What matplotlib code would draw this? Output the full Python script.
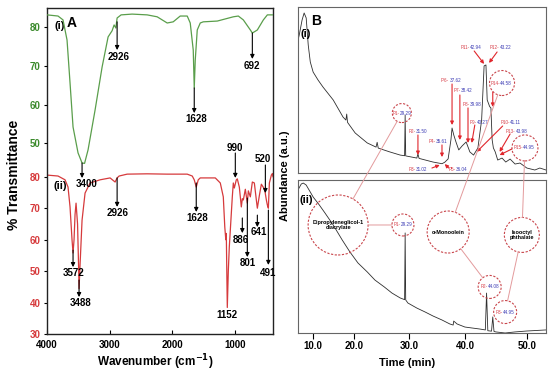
import numpy as np
import matplotlib
matplotlib.use('Agg')
import matplotlib.pyplot as plt
from matplotlib.patches import Circle, ConnectionPatch
from matplotlib.transforms import ScaledTranslation

plt.rcParams['font.family'] = ['Liberation Sans', 'DejaVu Sans']

# ---------------- Panel A : FTIR spectra ----------------
wn_i = [4000, 3824, 3744, 3680, 3632, 3584, 3504, 3440, 3400, 3344, 3232, 3120, 3024,
        2960, 2928, 2900, 2880, 2816, 2640, 2400, 2240, 2080, 1984, 1872, 1760, 1712,
        1664, 1648, 1632, 1600, 1552, 1504, 1280, 1024, 944, 864, 752, 720, 640, 544,
        480, 390]
tr_i = [83.2, 82.9, 81.9, 76.7, 65.6, 54.2, 47.5, 44.9, 44.8, 48.3, 58.6, 69.7, 77.5,
        79.1, 80.6, 79.8, 82.4, 83.2, 83.4, 83.2, 82.7, 81.1, 81.4, 82.9, 82.9, 81.1,
        74.1, 64.3, 71.5, 79.3, 81.1, 81.4, 81.6, 82.7, 82.9, 81.9, 79.3, 78.5, 79.3, 81.9,
        83.2, 83.2]

wn_ii = [4000, 3824, 3712, 3664, 3632, 3600, 3584, 3568, 3552, 3536, 3512, 3496, 3488,
         3472, 3440, 3392, 3312, 3152, 2992, 2912, 2880, 2848, 2720, 2400, 2080, 1760,
         1680, 1648, 1616, 1584, 1552, 1312, 1232, 1184, 1160, 1144, 1136, 1128, 1120,
         1104, 1088, 1072, 1040, 1024, 1008, 976, 960, 928, 896, 880, 864, 832, 800, 784,
         752, 720, 688, 656, 640, 608, 576, 544, 520, 496, 480, 464, 448, 416, 400, 390]
tr_ii = [80.5, 80.2, 79.0, 76.7, 70.4, 59.9, 55.8, 60.0, 68.0, 71.6, 65.0, 52.0, 44.5,
         52.0, 66.2, 74.8, 78.0, 79.0, 79.6, 78.3, 79.6, 80.2, 80.8, 80.9, 80.8, 80.8,
         80.2, 79.0, 76.7, 79.0, 79.6, 79.6, 78.0, 73.6, 64.0, 60.0, 62.0, 50.0, 38.5,
         50.0, 57.7, 63.0, 73.6, 78.0, 76.4, 79.0, 79.3, 76.7, 70.4, 73.0, 72.6, 76.0, 71.6, 75.5,
         73.6, 78.3, 78.0, 72.6, 70.0, 74.0, 77.6, 76.6, 75.5, 72.6, 71.0, 70.0, 78.0, 80.5, 81.0, 80.0]

# arrow annotations: label, tail (wn, %T), tip (wn, %T), text centre (wn, %T)
lab_i = ['2926', '3400', '1628', '692']
tail_i = [(2880, 81.4), (3440, 44.9), (1648, 64.3), (720, 78.5)]
tip_i = [(2880, 74.1), (3440, 41.0), (1648, 57.8), (720, 71.8)]
txt_i = [(2848, 72.3), (3360, 39.5), (1616, 56.3), (720, 70.0)]

lab_ii = ['2926', '1628', '3572', '3488', '990', '886', '801', '641', '520', '491']
tail_ii = [(2880, 79.6), (1616, 78.0), (3584, 56.7), (3488, 47.2), (992, 87.5),
           (880, 66.9), (800, 73.2), (640, 67.8), (512, 83.7), (464, 69.4)]
tip_ii = [(2880, 70.4), (1616, 68.8), (3584, 51.3), (3488, 41.8), (992, 79.6),
          (880, 62.1), (800, 54.5), (640, 64.0), (512, 74.8), (464, 52.0)]
txt_ii = [(2864, 68.5), (1600, 66.9), (3568, 49.4), (3456, 39.9), (992, 89.1),
          (896, 59.9), (800, 52.6), (624, 62.5), (560, 85.6), (464, 49.4)]
txt_1152 = (1120, 36.1)

# ---------------- Panel B : chromatograms ----------------
t_i = [6.3, 6.6, 7.3, 7.8, 8.3, 8.8, 9.3, 10.0, 11.2, 12.4, 14.9, 17.3, 18.0, 18.2, 18.4,
       20.2, 22.4, 24.0, 24.2, 24.4, 26.5, 28.4, 29.2, 29.3, 29.4, 31.4, 31.6, 31.8, 34.3,
       35.9, 36.4, 37.0, 37.5, 37.7, 38.0, 38.4, 38.9, 39.5, 40.2, 40.8, 41.4, 42.1, 42.7,
       43.1, 43.4, 43.6, 44.0, 44.2, 44.4, 44.6, 44.9, 45.3, 46.0, 46.6, 47.3, 48.1, 48.9,
       50.0, 51.3, 52.1, 53.1]
ab_i = [80.0, 83.1, 92.2, 96.4, 93.4, 77.1, 66.9, 60.8, 56.0, 51.8, 44.0, 33.7, 31.9, 35.5, 30.5,
        24.1, 18.1, 15.6, 18.5, 15.0, 12.7, 10.8, 10.4, 34.9, 10.3, 9.0, 11.5, 8.8, 6.6,
        5.6, 6.5, 8.5, 20.0, 27.1, 23.0, 18.7, 13.9, 16.3, 18.7, 12.7, 10.8, 15.1, 31.9,
        64.5, 65.1, 44.0, 40.0, 39.2, 20.0, 15.1, 12.7, 7.8, 9.0, 6.6, 8.4, 5.4, 6.0,
        3.0, 1.8, 3.0, 1.8]

t_ii = [6.3, 7.1, 7.6, 8.3, 9.0, 10.0, 11.5, 12.9, 14.9, 17.1, 19.0, 20.7, 22.4, 23.8,
        25.5, 26.9, 28.4, 29.2, 29.3, 29.4, 29.8, 31.4, 32.9, 34.3, 35.9, 37.3, 37.9, 38.0,
        38.6, 40.0, 41.1, 42.4, 43.3, 43.5, 43.7, 44.3, 44.5, 44.7, 45.0, 46.5, 48.1, 50.0, 53.1]
ab_ii = [93.5, 97.4, 98.0, 96.7, 93.5, 88.9, 83.7, 78.4, 70.6, 60.8, 52.9, 45.8, 39.9, 34.6,
         30.1, 26.1, 22.9, 21.8, 65.4, 21.6, 19.6, 16.3, 13.7, 11.1, 8.5, 5.9, 5.2, 7.8,
         5.9, 3.9, 3.3, 2.6, 2.0, 26.1, 1.5, 1.2, 10.5, 1.0, 0.7, 0.0, 0.7, 1.3, 2.0]

# peak labels with arrows in (i): prefix, retention time, text anchor, arrow tail, arrow tip
pk_pre = ['P2-', 'P3-', 'P4-', 'P5-', 'P6- ', 'P7-', 'P8-', 'P9-', 'P10-', 'P11-', 'P12-', 'P13-']
pk_num = ['31.50', '31.02', '35.61', '36.04', '37.62', '38.42', '39.98', '40.27', '41.11',
          '42.94', '43.22', '43.98']
pk_txt = [(31.25, 25.3), (31.25, 2.4), (34.8, 18.7), (38.4, 2.4), (37.3, 56.0), (39.3, 49.4),
          (40.8, 41.0), (41.9, 30.7), (47.3, 30.7), (40.8, 75.9), (45.6, 75.9), (48.2, 25.3)]
pk_tail = [(31.6, 22.9), (34.1, 3.0), (35.9, 16.9), (37.1, 3.0), (37.7, 53.6), (39.1, 47.0),
           (40.5, 39.2), (41.6, 28.9), (46.1, 28.3), (41.5, 73.5), (45.2, 72.9), (47.3, 23.5)]
pk_tip = [(31.6, 10.8), (35.5, 4.8), (35.9, 9.6), (36.4, 5.4), (37.7, 28.9), (39.1, 19.9),
          (40.5, 18.1), (41.1, 18.1), (41.9, 12.7), (43.1, 65.7), (43.9, 66.3), (45.6, 12.7)]

# circled peaks: prefix, time, centre, radius (px)
circ_i = [('P1-', '29.29', (28.7, 36.1), 9.5), ('P14-', '44.58', (46.0, 54.2), 12.5),
          ('P15-', '44.95', (49.7, 15.1), 13)]
circ_ii = [('P1-', '29.29', (28.9, 70.6), 11), ('P2-', '44.08', (44.0, 30.1), 11.5),
           ('P3-', '44.95', (46.5, 13.7), 11.5)]
compounds = ['Dipropyleneglicol-1\ndiacrylate', 'α-Monoolein', 'Isooctyl\nphthalate']
comp_xy = [(16.1, 70.6), (37.0, 66.0), (49.2, 64.1)]
comp_r = [30, 21, 17.5]

# uneven time axis of the original figure
T_KNOTS = [0, 10, 20, 30, 40, 50, 60]
P_KNOTS = [272, 313, 354, 409, 465, 527, 589]


def t_fwd(t):
    return np.interp(t, T_KNOTS, P_KNOTS)


def t_inv(p):
    return np.interp(p, P_KNOTS, T_KNOTS)


GREEN = '#5a9e4b'
RED = '#d63a3c'
PRED = '#d8404a'
PBLUE = '#3c3cb4'

fig = plt.figure(figsize=(5.5, 3.72), dpi=100)

# ---- panel A ----
axA = fig.add_axes([47 / 550, 1 - 334.3 / 372, 226 / 550, 326 / 372])
axG = axA.twinx()
axG.yaxis.tick_left()

axA.plot(wn_ii, tr_ii, color=RED, lw=0.9)
axG.plot(wn_i, tr_i, color=GREEN, lw=0.9)

axA.set_xlim(4000, 390)
axA.set_ylim(30, 133.4)
axG.set_ylim(0.6, 84.9)
axA.set_xticks([4000, 3000, 2000, 1000])
axA.set_yticks([30, 40, 50, 60, 70, 80])
axG.set_yticks([50, 60, 70, 80])
for lab in axA.get_xticklabels():
    lab.set_fontweight('bold')
axA.tick_params(axis='x', direction='in', length=3, labelsize=7, pad=4)
axA.tick_params(axis='y', direction='out', length=2.5, labelsize=7, labelcolor=RED, pad=2)
axG.tick_params(axis='y', direction='out', length=2.5, labelsize=7, labelcolor='#3b8a2c', pad=2,
                left=True, labelleft=True, right=False, labelright=False)
for lab in axA.get_yticklabels() + axG.get_yticklabels():
    lab.set_fontweight('bold')
for sp in axA.spines.values():
    sp.set_linewidth(1.0)
    sp.set_color('#222222')
for sp in axG.spines.values():
    sp.set_visible(False)

arw = dict(arrowstyle='-|>', color='k', lw=0.8, mutation_scale=6, shrinkA=0, shrinkB=0)
for lab, a, b, c in zip(lab_i, tail_i, tip_i, txt_i):
    axG.annotate('', xy=b, xytext=a, arrowprops=arw)
    axG.text(c[0], c[1], lab, fontsize=7, fontweight='bold', ha='center', va='center')
for lab, a, b, c in zip(lab_ii, tail_ii, tip_ii, txt_ii):
    axA.annotate('', xy=b, xytext=a, arrowprops=arw)
    axA.text(c[0], c[1], lab, fontsize=7, fontweight='bold', ha='center', va='center')
axA.text(txt_1152[0], txt_1152[1], '1152', fontsize=7, fontweight='bold', ha='center', va='center')

axA.text(0.11, 0.975, 'A', transform=axA.transAxes, fontsize=10, fontweight='bold', va='top', ha='center')
axA.text(0.055, 0.945, '(i)', transform=axA.transAxes, fontsize=8, fontweight='bold', va='center', ha='center')
axA.text(0.06, 0.455, '(ii)', transform=axA.transAxes, fontsize=8, fontweight='bold', va='center', ha='center')
fig.text(14 / 550, 1 - 175 / 372, '% Transmittance', rotation=90, fontsize=10, fontweight='bold',
         ha='center', va='center')
fig.text(155 / 550, 1 - 362 / 372, 'Wavenumber (cm$^{\\mathbf{-1}}$)', fontsize=8.5, fontweight='bold',
         ha='center', va='center')

# ---- panel B ----
ax1 = fig.add_axes([298 / 550, 1 - 173 / 372, 248 / 550, 166 / 372])
ax2 = fig.add_axes([298 / 550, 1 - 333 / 372, 248 / 550, 153 / 372])
for ax, t, a in ((ax1, t_i, ab_i), (ax2, t_ii, ab_ii)):
    ax.set_xscale('function', functions=(t_fwd, t_inv))
    ax.plot(t, a, color='#2e2e2e', lw=0.6)
    ax.set_xlim(6.3, 53.1)
    ax.set_ylim(0, 100)
    ax.set_yticks([])
    for sp in ax.spines.values():
        sp.set_linewidth(0.8)
        sp.set_color('#666666')
ax1.set_xticks([])
ax2.set_xticks([10, 20, 30, 40, 50])
ax2.set_xticklabels(['10.0', '20.0', '30.0', '40.0', '50.0'], fontweight='bold')
ax2.tick_params(axis='x', direction='out', length=4, labelsize=7, pad=2)

ax1.text(0.075, 0.96, 'B', transform=ax1.transAxes, fontsize=10, fontweight='bold', va='top', ha='center')
ax1.text(0.03, 0.84, '(i)', transform=ax1.transAxes, fontsize=8, fontweight='bold', va='center', ha='center')
ax2.text(0.035, 0.87, '(ii)', transform=ax2.transAxes, fontsize=8, fontweight='bold', va='center', ha='center')
fig.text(285 / 550, 1 - 176 / 372, 'Abundance (a.u.)', rotation=90, fontsize=8, fontweight='bold',
         ha='center', va='center')
fig.text(407 / 550, 1 - 363 / 372, 'Time (min)', fontsize=8, fontweight='bold', ha='center', va='center')


def two_tone(ax, x, y, pre, num, size=3.3):
    ax.text(x, y, pre, color=PRED, fontsize=size, ha='right', va='center', zorder=5)
    ax.text(x, y, num, color=PBLUE, fontsize=size, ha='left', va='center', zorder=5)


def ring(ax, xy, r):
    tr = fig.dpi_scale_trans + ScaledTranslation(xy[0], xy[1], ax.transData)
    c = Circle((0, 0), r / 100, transform=tr, fill=False, ec='#c9464c', lw=0.8,
               ls=(0, (2, 1.4)), clip_on=False, zorder=4)
    ax.add_patch(c)


red_arw = dict(arrowstyle='-|>', color='#e0262c', lw=0.8, mutation_scale=5, shrinkA=0, shrinkB=0)
for pre, num, xy, a, b in zip(pk_pre, pk_num, pk_txt, pk_tail, pk_tip):
    two_tone(ax1, xy[0], xy[1], pre, num)
    ax1.annotate('', xy=b, xytext=a, arrowprops=red_arw)
ax1.annotate('', xy=(44.5, 39.8), xytext=(44.5, 48.8), arrowprops=red_arw)
ax1.annotate('', xy=(45.6, 10.8), xytext=(47.6, 14.5), arrowprops=red_arw)

for ax, circs in ((ax1, circ_i), (ax2, circ_ii)):
    for pre, num, xy, r in circs:
        ring(ax, xy, r)
        two_tone(ax, xy[0] - 0.35, xy[1], pre, num)

for name, xy, r in zip(compounds, comp_xy, comp_r):
    ring(ax2, xy, r)
    ax2.text(xy[0], xy[1], name, fontsize=4, fontweight='bold', ha='center', va='center',
             linespacing=1.1, zorder=5)

links = [(ax1, circ_i[0][2], circ_i[0][3], ax2, comp_xy[0], comp_r[0]),
         (ax1, circ_i[1][2], circ_i[1][3], ax2, comp_xy[1], comp_r[1]),
         (ax1, circ_i[2][2], circ_i[2][3], ax2, comp_xy[2], comp_r[2]),
         (ax2, comp_xy[0], comp_r[0], ax2, circ_ii[0][2], circ_ii[0][3]),
         (ax2, comp_xy[1], comp_r[1], ax2, circ_ii[1][2], circ_ii[1][3]),
         (ax2, comp_xy[2], comp_r[2], ax2, circ_ii[2][2], circ_ii[2][3])]
for axa, pa, ra, axb, pb, rb in links:
    con = ConnectionPatch(xyA=pa, coordsA=axa.transData, xyB=pb, coordsB=axb.transData,
                          arrowstyle='-', color='#e39a9c', lw=0.7,
                          shrinkA=ra * 0.72, shrinkB=rb * 0.72, zorder=3)
    fig.add_artist(con)

fig.savefig('out.png', dpi=100)
